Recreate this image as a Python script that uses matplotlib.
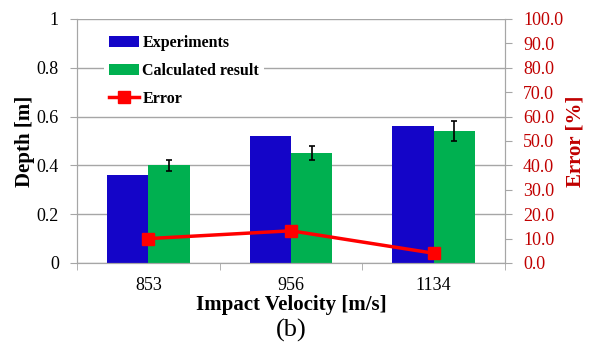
import matplotlib
matplotlib.use('Agg')
import matplotlib.pyplot as plt
import numpy as np

velocities = ['853', '956', '1134']
depth_exp = [0.36, 0.522, 0.561]
depth_calc = [0.40, 0.452, 0.540]
calc_err = [0.022, 0.029, 0.042]
error_pct = [10.0, 13.2, 4.0]

plt.rcParams['font.family'] = ['Liberation Serif', 'DejaVu Serif']

blue = '#1405C8'
green = '#00B050'
red = '#FF0000'
dark_red = '#C00000'
grid_grey = '#A6A6A6'

fig = plt.figure(figsize=(5.9, 3.45), dpi=100)
ax = fig.add_axes([0.1305, 0.2377, 0.7255, 0.7073])
x = np.arange(len(velocities))
w = 0.29

ax.bar(x - w / 2, depth_exp, w, color=blue, label='Experiments', zorder=2)
ax.bar(x + w / 2, depth_calc, w, color=green, label='Calculated result', zorder=2,
       yerr=calc_err, error_kw=dict(ecolor='black', capsize=2.5, elinewidth=1.2, capthick=1.2))

ax.set_ylim(0, 1)
ax.set_xlim(-0.5, len(velocities) - 0.5)
ax.set_yticks([0, 0.2, 0.4, 0.6, 0.8, 1.0])
ax.set_yticklabels(['0', '0.2', '0.4', '0.6', '0.8', '1'])
ax.yaxis.grid(True, color=grid_grey, linewidth=1, zorder=0)
ax.set_axisbelow(True)
ax.set_xticks(x)
ax.set_xticklabels(velocities)
ax.set_xticks(np.arange(len(velocities) + 1) - 0.5, minor=True)
ax.tick_params(axis='x', which='major', length=0, labelsize=13, pad=10)
ax.tick_params(axis='x', which='minor', length=5, color=grid_grey, direction='out')
ax.tick_params(axis='y', length=5, color=grid_grey, labelsize=13, direction='out', pad=8)
for s in ['left', 'right', 'bottom', 'top']:
    ax.spines[s].set_color(grid_grey)
ax.spines['top'].set_visible(False)
ax.set_ylabel('Depth [m]', fontsize=15, fontweight='bold', labelpad=1)
ax.set_xlabel('Impact Velocity [m/s]', fontsize=15, fontweight='bold', labelpad=1)

ax2 = ax.twinx()
ax2.plot(x, error_pct, color=red, linewidth=2.5, marker='s', markersize=8, label='Error', zorder=3)
ax2.set_ylim(0, 100)
ax2.set_yticks(np.arange(0, 101, 10))
ax2.set_yticklabels([f'{v:.1f}' for v in np.arange(0, 101, 10)])
ax2.tick_params(axis='y', length=5, color=grid_grey, labelsize=13, labelcolor=dark_red, pad=8)
for s in ['left', 'right', 'bottom', 'top']:
    ax2.spines[s].set_color(grid_grey)
ax2.spines['top'].set_visible(False)
ax2.set_ylabel('Error [%]', fontsize=15, fontweight='bold', color=dark_red, labelpad=2)

h1, l1 = ax.get_legend_handles_labels()
h2, l2 = ax2.get_legend_handles_labels()
leg = ax2.legend(h1 + h2, l1 + l2, loc='upper left', bbox_to_anchor=(0.063, 0.955),
                 prop={'weight': 'bold', 'size': 11.5}, frameon=True, fancybox=False,
                 edgecolor='none', facecolor='white', framealpha=1,
                 handlelength=1.9, handletextpad=0.2, labelspacing=0.75, borderpad=0.3,
                 borderaxespad=0)
leg.set_zorder(10)

fig.text(0.494, 0.01, '(b)', ha='center', va='bottom', fontsize=19)

fig.savefig('out.png', dpi=100)
